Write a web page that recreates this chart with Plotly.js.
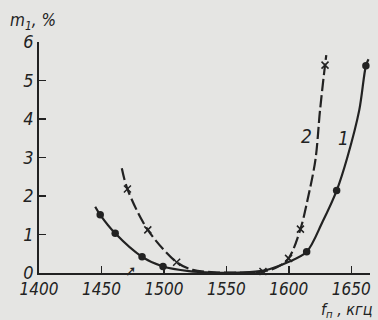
<!DOCTYPE html>
<html>
<head>
<meta charset="utf-8">
<script src="https://cdn.plot.ly/plotly-3.0.1.min.js"></script>
<style>
html,body{margin:0;padding:0;background:#e5e5e3;}
#chart{width:378px;height:320px;}
</style>
</head>
<body>
<div id="chart"></div>
<script>
// Curve 1 (solid line, filled circles)
const curve1LineX = [1445, 1449, 1461, 1482.5, 1499.3, 1520, 1540, 1560, 1580, 1600, 1614.3, 1627, 1638.3, 1647, 1656.4, 1661.7, 1663.8];
const curve1LineY = [1.72, 1.51, 1.03, 0.42, 0.17, 0.05, 0.01, 0.01, 0.06, 0.29, 0.55, 1.33, 2.14, 3.02, 4.23, 5.38, 5.55];
const curve1PtsX = [1449, 1461, 1482.5, 1499.3, 1614.3, 1638.3, 1661.7];
const curve1PtsY = [1.51, 1.03, 0.42, 0.17, 0.55, 2.14, 5.38];

// Curve 2 (dashed line, crosses)
const curve2LineX = [1466.3, 1470.8, 1487.1, 1510.2, 1523, 1540, 1560, 1579.3, 1590, 1599.8, 1609.3, 1615, 1621.3, 1625, 1629, 1630];
const curve2LineY = [2.72, 2.18, 1.12, 0.28, 0.08, 0.02, 0.01, 0.04, 0.14, 0.38, 1.14, 1.9, 2.94, 4.23, 5.4, 5.66];
const curve2PtsX = [1470.8, 1487.1, 1510.2, 1579.3, 1599.8, 1609.3, 1629];
const curve2PtsY = [2.18, 1.12, 0.28, 0.04, 0.38, 1.14, 5.4];

const xTicks = [1400, 1450, 1500, 1550, 1600, 1650];
const yTicks = [0, 1, 2, 3, 4, 5, 6];

const ink = '#222222';
const fontFam = '"DejaVu Sans Condensed", "DejaVu Sans", sans-serif';

const traces = [
  {x: curve1LineX, y: curve1LineY, mode: 'lines', type: 'scatter',
   line: {color: ink, width: 2.2, shape: 'spline', smoothing: 0.9}, hoverinfo: 'skip', cliponaxis: false},
  {x: curve1PtsX, y: curve1PtsY, mode: 'markers', type: 'scatter',
   marker: {symbol: 'circle', size: 7.5, color: ink}, cliponaxis: false},
  {x: curve2LineX, y: curve2LineY, mode: 'lines', type: 'scatter',
   line: {color: ink, width: 2.2, shape: 'spline', smoothing: 0.9, dash: '12px,4px'}, hoverinfo: 'skip', cliponaxis: false},
  {x: curve2PtsX, y: curve2PtsY, mode: 'markers', type: 'scatter',
   marker: {symbol: 'x-thin-open', size: 7, color: ink, line: {color: ink, width: 1.5}}, cliponaxis: false}
];

const layout = {
  width: 378, height: 320,
  margin: {l: 38.5, r: 8, t: 42, b: 47},
  paper_bgcolor: '#e5e5e3', plot_bgcolor: '#e5e5e3',
  showlegend: false,
  font: {family: fontFam, color: ink},
  xaxis: {
    range: [1400, 1665], tickvals: xTicks, ticktext: xTicks.map(String),
    ticks: 'inside', ticklen: 7, tickwidth: 1.5, tickcolor: ink,
    showline: true, linecolor: ink, linewidth: 1.8, showgrid: false, zeroline: false,
    tickfont: {family: fontFam, size: 17, style: 'italic', color: ink}
  },
  yaxis: {
    range: [0, 6], tickvals: yTicks, ticktext: yTicks.map(String),
    ticks: 'inside', ticklen: 7, tickwidth: 1.5, tickcolor: ink,
    showline: true, linecolor: ink, linewidth: 1.8, showgrid: false, zeroline: false,
    tickfont: {family: fontFam, size: 18, style: 'italic', color: ink}
  },
  annotations: [
    {xref: 'paper', yref: 'paper', x: -0.095, y: 1.087, xanchor: 'left', yanchor: 'middle',
     text: 'm<sub>1</sub>, %', showarrow: false,
     font: {family: fontFam, size: 17, style: 'italic', color: ink}},
    {xref: 'paper', yref: 'paper', x: 1.015, y: -0.163, xanchor: 'right', yanchor: 'middle',
     text: 'f<sub>п</sub> , кгц', showarrow: false,
     font: {family: fontFam, size: 16, style: 'italic', color: ink}},
    {xref: 'x', yref: 'y', x: 1644, y: 3.5, text: '1', showarrow: false,
     font: {family: fontFam, size: 19, style: 'italic', color: ink}},
    {xref: 'x', yref: 'y', x: 1614, y: 3.55, text: '2', showarrow: false,
     font: {family: fontFam, size: 19, style: 'italic', color: ink}},
    {xref: 'x', yref: 'y', x: 1473, y: 0.05, text: '<b>➚</b>', showarrow: false,
     font: {family: fontFam, size: 15, color: ink}}
  ]
};

Plotly.newPlot('chart', traces, layout, {staticPlot: true});
</script>
</body>
</html>
